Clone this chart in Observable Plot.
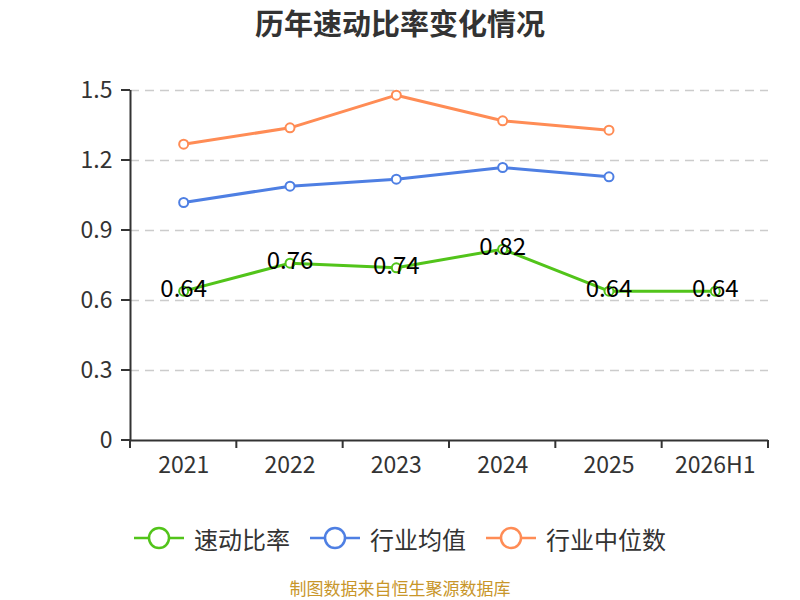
<!DOCTYPE html>
<html><head><meta charset="utf-8">
<script src="https://cdn.jsdelivr.net/npm/d3@7"></script>
<script src="https://cdn.jsdelivr.net/npm/@observablehq/plot@0.6"></script>
<style>
body{margin:0;background:#fff;font-family:"Noto Sans CJK SC","Noto Sans",sans-serif;}
#wrap{position:relative;width:800px;height:600px;overflow:hidden;}
#title{position:absolute;top:0px;left:0;width:800px;text-align:center;font-size:29px;line-height:44px;font-weight:bold;color:#333;}
#chart{position:absolute;top:50px;left:0;}
#legend{position:absolute;top:520px;left:0;width:800px;height:36px;display:flex;justify-content:center;align-items:center;gap:20px;font-size:24px;color:#333;}
.item{display:flex;align-items:center;gap:10px;}
#caption{position:absolute;top:577px;left:0;width:800px;text-align:center;font-size:17px;line-height:21px;color:#c8962a;}
</style></head>
<body><div id="wrap">
<div id="title">历年速动比率变化情况</div>
<div id="chart"></div>
<div id="legend"></div>
<div id="caption">制图数据来自恒生聚源数据库</div>
</div>
<script>
const categories = ["2021","2022","2023","2024","2025","2026H1"];
const quickRatio = [0.64,0.76,0.74,0.82,0.64,0.64];
const industryMean = [1.02,1.09,1.12,1.17,1.13];
const industryMedian = [1.27,1.34,1.48,1.37,1.33];
const yTicks = [0,0.3,0.6,0.9,1.2,1.5];
const seriesNames = ["速动比率","行业均值","行业中位数"];
const colors = ["#52c41a","#4e7fe3","#ff8c55"];

const toRows = (vals, s) => vals.map((v,i)=>({i, v, s}));
const rows = [toRows(quickRatio,0), toRows(industryMean,1), toRows(industryMedian,2)];
const bounds = d3.range(categories.length+1).map(k=>k-0.5);

const fontFam = '"Noto Sans CJK SC","Noto Sans",sans-serif';
function axesTicks(index, scales) {
  const g = d3.create("svg:g");
  const y0 = scales.y(0), x0 = scales.x(-0.5);
  for (const b of bounds) g.append("line").attr("x1",scales.x(b)).attr("x2",scales.x(b)).attr("y1",y0).attr("y2",y0+8).attr("stroke","#333").attr("stroke-width",2);
  for (const t of yTicks) g.append("line").attr("x1",x0-9).attr("x2",x0).attr("y1",scales.y(t)).attr("y2",scales.y(t)).attr("stroke","#333").attr("stroke-width",2);
  return g.node();
}
const chart = Plot.plot({
  width: 800, height: 450,
  marginLeft: 130, marginRight: 32, marginTop: 40, marginBottom: 60,
  style: {fontFamily: fontFam, fontSize: "20px", color: "#333", background: "white"},
  x: {type:"linear", domain: [-0.5, categories.length-0.5], axis: null},
  y: {type:"linear", domain: [0,1.5], axis: null},
  marks: [
    Plot.ruleY(yTicks.filter(t=>t>0), {x1:-0.5, x2:categories.length-0.5, stroke:"#cccccc", strokeWidth:1.5, strokeDasharray:"9,6"}),
    Plot.ruleY([0], {x1:-0.5, x2:categories.length-0.5, stroke:"#333", strokeWidth:2}),
    Plot.ruleX([-0.5], {y1:0, y2:1.5, stroke:"#333", strokeWidth:2}),
    axesTicks,
    Plot.text(yTicks, {x:()=>-0.5, y:d=>d, text:d=>String(d), dx:-18, textAnchor:"end", fill:"#333", fontSize:23}),
    Plot.text(categories.map((c,i)=>({c,i})), {x:"i", y:()=>0, text:"c", dy:25, fill:"#333", fontSize:23}),
    ...rows.map((r,k)=>Plot.line(r, {x:"i", y:"v", stroke:colors[k], strokeWidth:3})),
    ...rows.map((r,k)=>Plot.dot(r, {x:"i", y:"v", r:4.5, fill:"white", stroke:colors[k], strokeWidth:2})),
    Plot.text(rows[0], {x:"i", y:"v", text:d=>d.v.toFixed(2), dy:-2, fill:"#000", fontSize:24})
  ]
});
document.getElementById("chart").appendChild(chart);

const legend = document.getElementById("legend");
seriesNames.forEach((n,k)=>{
  const it = document.createElement("div"); it.className="item";
  it.innerHTML = `<svg width="50" height="24"><line x1="0" y1="12" x2="50" y2="12" stroke="${colors[k]}" stroke-width="2.5"/><circle cx="25" cy="12" r="10" fill="white" stroke="${colors[k]}" stroke-width="2.5"/></svg><span>${n}</span>`;
  legend.appendChild(it);
});
</script></body></html>
